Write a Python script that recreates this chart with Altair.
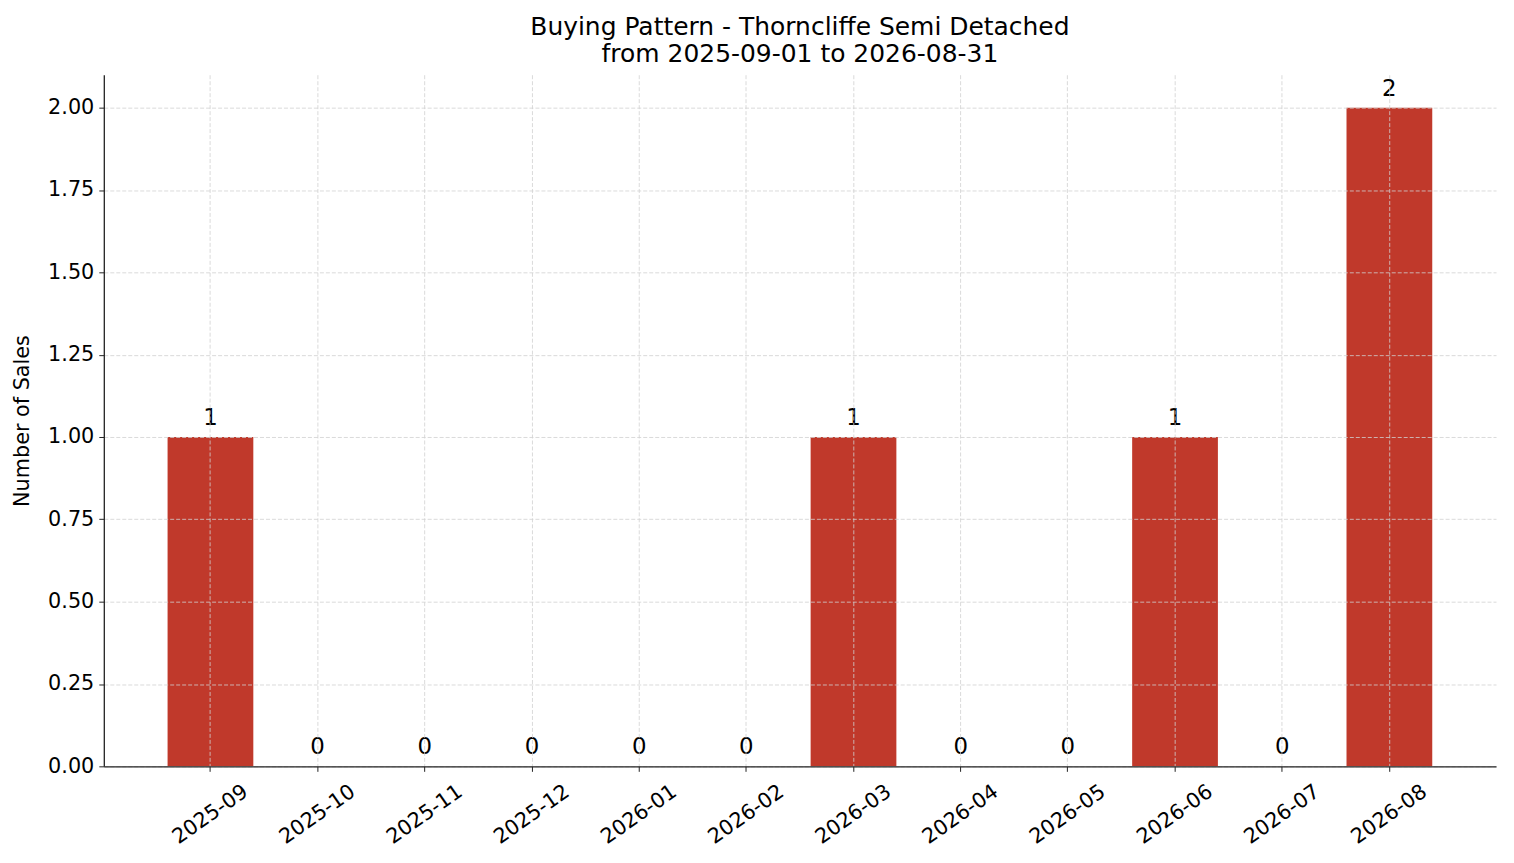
import pandas as pd
import altair as alt

font = "DejaVu Sans"
bar_color = "#c0392b"

months = ["2025-09", "2025-10", "2025-11", "2025-12", "2026-01", "2026-02",
          "2026-03", "2026-04", "2026-05", "2026-06", "2026-07", "2026-08"]
sales = [1, 0, 0, 0, 0, 0, 1, 0, 0, 1, 0, 2]
y_ticks = [0, 0.25, 0.5, 0.75, 1.0, 1.25, 1.5, 1.75, 2.0]

df = pd.DataFrame({"Month": months, "Sales": sales})

x_enc = alt.X(
    "Month:N", sort=months, title=None,
    scale=alt.Scale(paddingInner=0.2, paddingOuter=0.595),
    axis=alt.Axis(
        labelAngle=-35, labelAlign="center", labelBaseline="middle",
        labelPadding=43, bandPosition=0.5, grid=True, zindex=1,
        gridDash=[4, 2], gridColor="#d0d0d0", gridWidth=0.8,
        tickSize=5, tickColor="#222222", domainColor="#222222", domainWidth=1.3,
        labelFontSize=20.8, labelColor="black", labelFont=font))

bars = alt.Chart(df).mark_bar(color=bar_color).encode(
    x=x_enc,
    y=alt.Y("Sales:Q", title="Number of Sales",
            scale=alt.Scale(domain=[0, 2.1], nice=False, zero=True),
            axis=alt.Axis(values=y_ticks, format=".2f", grid=True, zindex=1,
                          gridDash=[4, 2], gridColor="#d0d0d0", gridWidth=0.8,
                          tickSize=5, tickColor="#222222", domainColor="#222222",
                          domainWidth=1.3, labelPadding=5,
                          labelFontSize=20.8, labelColor="black", labelFont=font,
                          titleFontSize=20.8, titleFont=font, titleFontWeight="normal",
                          titleColor="black", titlePadding=15)))

labels = alt.Chart(df).mark_text(
    baseline="bottom", dy=-7, fontSize=22.9, font=font, color="black"
).encode(
    x=alt.X("Month:N", sort=months),
    y=alt.Y("Sales:Q"),
    text=alt.Text("Sales:Q"))

chart = alt.layer(bars, labels).properties(
    width=1395, height=693,
    background="white",
    autosize=alt.AutoSizeParams(type="none"),
    padding={"left": 96, "top": 66, "right": 10, "bottom": 88},
    title=alt.Title(
        ["Buying Pattern - Thorncliffe Semi Detached", "from 2025-09-01 to 2026-08-31"],
        anchor="middle", font=font, fontSize=25, fontWeight="normal",
        color="black", offset=8, lineHeight=27)
).configure_view(stroke=None, strokeWidth=0)

chart.save("out.html", embed_options={"renderer": "svg", "actions": False})
